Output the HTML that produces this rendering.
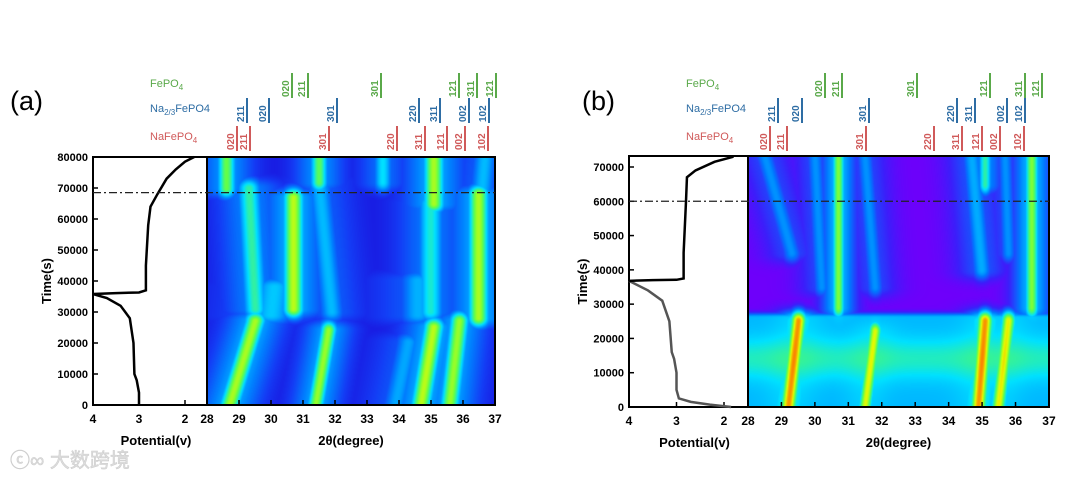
<!DOCTYPE html>
<html><head><meta charset="utf-8"><style>
body{margin:0;background:#fff;width:1080px;height:479px;overflow:hidden;position:relative;font-family:"Liberation Sans",sans-serif}
canvas{position:absolute}
svg{position:absolute;left:0;top:0}
</style></head><body>
<canvas id="heatA" style="left:207px;top:157px" width="288" height="248"></canvas>
<canvas id="heatB" style="left:748px;top:156px" width="301" height="251"></canvas>
<svg id="ov" width="1080" height="479"></svg>
<script>
// ---- data ----
// tracks: [theta0, t0(ks), theta1, t1(ks), sigma(deg), intensity]
const aTracks=[[28.7,0,29.5,27,0.16,0.78],[29.5,31,29.3,70,0.17,0.6],[28.6,70,28.6,80,0.14,0.7],
[30.7,31,30.7,67,0.16,0.8],[31.4,0,31.8,24,0.13,0.76],[31.9,30,31.5,72,0.17,0.42],[31.5,72,31.5,80,0.13,0.68],
[33.5,72,33.5,80,0.13,0.5],[33.9,0,34.3,20,0.18,0.38],[34.7,0,35.1,25,0.16,0.8],[35.6,0,35.9,27,0.15,0.76],
[35.0,30,35.0,65,0.18,0.55],[35.1,65,35.1,80,0.16,0.78],[36.5,28,36.5,68,0.16,0.78],[36.6,68,36.7,80,0.17,0.42],
[30.0,29,30.1,38,0.3,0.45],[34.6,29,34.6,40,0.25,0.4]];
const bTracks=[[29.2,0,29.5,25,0.13,0.92],[31.5,0,31.8,22,0.11,0.8],[34.9,0,35.1,25,0.13,0.92],[35.5,0,35.8,25,0.12,0.82],
[30.7,29,30.7,73,0.1,0.74],[36.5,29,36.5,73,0.11,0.74],[29.3,45,28.5,73,0.15,0.35],[30.2,35,30.0,73,0.13,0.35],
[31.8,35,31.5,73,0.13,0.35],[35.0,40,34.7,73,0.15,0.4],[35.1,65,35.1,73,0.1,0.6],[35.8,45,35.7,73,0.12,0.35]];
const aPotential=[[3.0,0],[3.0,4],[3.05,8],[3.1,10],[3.12,20],[3.2,28],[3.4,32],[3.7,34.5],[4.0,35.8],[3.5,36.1],[3.0,36.3],[2.85,37],[2.85,45],[2.8,58],[2.75,64],[2.6,68],[2.4,73],[2.2,76],[2.0,78.5],[1.8,80]];
const bPotentialDis=[[1.85,0],[2.3,0.7],[2.7,1.5],[2.95,2.5],[3.0,5],[3.0,10],[3.05,14],[3.1,16],[3.15,25],[3.3,31],[3.6,34],[4.0,36.8]];
const bPotentialCh=[[4.0,36.8],[3.5,37],[3.0,37.1],[2.85,37.5],[2.85,45],[2.8,60],[2.78,67],[2.6,69],[2.2,71.5],[1.8,73]];
const aTimeTicks=[0,10000,20000,30000,40000,50000,60000,70000,80000];
const bTimeTicks=[0,10000,20000,30000,40000,50000,60000,70000];
const thetaTicks=[28,29,30,31,32,33,34,35,36,37];
const vTicks=[4,3,2];
const peakNames=["020","211","301","121","311","121"];
const aGreenX=[285,301,374,452,470,489];
const aBlueNames=["211","020","301","220","311","002","102"];
const aBlueX=[240,262,330,412,433,462,482];
const aRedNames=["020","211","301","220","311","121","002","102"];
const aRedX=[230,243,322,390,418,440,458,481];
const bGreenX=[818,835,910,983,1018,1035];
const bBlueX=[771,795,862,950,968,1000,1018];
const bRedX=[763,780,859,927,955,975,993,1017];

function cmap(v,purple){
  const st=purple?[[0,[110,0,250]],[0.12,[60,30,250]],[0.3,[0,120,255]],[0.5,[0,225,255]],[0.7,[90,255,80]],[0.85,[230,250,0]],[1,[255,110,0]]]
  :[[0,[25,25,225]],[0.12,[20,60,245]],[0.3,[0,130,255]],[0.5,[0,225,255]],[0.7,[100,255,70]],[0.85,[230,250,0]],[1,[255,110,0]]];
  v=Math.max(0,Math.min(1,v));
  for(let i=1;i<st.length;i++){if(v<=st[i][0]){const f=(v-st[i-1][0])/(st[i][0]-st[i-1][0]);const a=st[i-1][1],b=st[i][1];return[a[0]+(b[0]-a[0])*f,a[1]+(b[1]-a[1])*f,a[2]+(b[2]-a[2])*f];}}
  return st[st.length-1][1];
}
function drawHeat(id,tracks,tMax,purple,band,sw,hf){
  const c=document.getElementById(id),ctx=c.getContext('2d'),W=c.width,H=c.height,img=ctx.createImageData(W,H);
  for(let py=0;py<H;py++){const t=tMax*(1-py/(H-1));
    for(let px=0;px<W;px++){const th=28+9*px/(W-1);let core=0,halo=0;
      for(const k of tracks){const lo=Math.min(k[1],k[3]),hi=Math.max(k[1],k[3]);
        const tc=Math.max(lo,Math.min(hi,t));const f=(hi>lo)?(tc-k[1])/(k[3]-k[1]):0;const cth=k[0]+(k[2]-k[0])*f;
        const fade=Math.exp(-Math.pow((t-tc)/3.5,2));const d=(th-cth);const s=k[4]*sw;
        core=Math.max(core,k[5]*fade*Math.exp(-d*d/(2*s*s)));
        halo=Math.max(halo,k[5]*fade*Math.exp(-d*d/(2*7*s*s)));}
      let v=Math.max(core,hf*halo);
      if(band){const bv=t<26?0.42+0.15*Math.exp(-Math.pow((t-14)/6,2)):0.42*Math.exp(-Math.pow((t-26)/1.5,2));v=Math.max(v,bv)+0.1*Math.min(v,bv);}
      const col=cmap(v,purple);const i=(py*W+px)*4;img.data[i]=col[0];img.data[i+1]=col[1];img.data[i+2]=col[2];img.data[i+3]=255;}}
  ctx.putImageData(img,0,0);
}
drawHeat('heatA',aTracks,80,false,false,1.6,0.5);
drawHeat('heatB',bTracks,73.2,true,true,1.5,0.58);

const S='http://www.w3.org/2000/svg',ov=document.getElementById('ov');
function el(tag,at,txt){const e=document.createElementNS(S,tag);for(const k in at)e.setAttribute(k,at[k]);if(txt!==undefined)e.textContent=txt;ov.appendChild(e);return e;}

function panel(P){
  const vx=v=>P.vx4+(4-v)*P.pxV, ty=t=>P.y0-t*P.pxT, tx=th=>P.hx0+(th-28)*P.pxD;
  const frame=el('rect',{x:P.vx4,y:P.yTop,width:P.hx1-P.vx4,height:P.y0-P.yTop,fill:'none',stroke:'#000','stroke-width':2});
  
  const sep=el('line',{x1:P.hx0,x2:P.hx0,y1:P.yTop,y2:P.y0,stroke:'#000','stroke-width':2});
  
  P.timeTicks.forEach(t=>{
    const l=el('line',{x1:P.vx4,x2:P.vx4+5,y1:ty(t/1000),y2:ty(t/1000),stroke:'#000','stroke-width':1.5});
    
    const tl=el('text',{x:P.vx4-5,y:ty(t/1000)+4,'text-anchor':'end','font-size':11,'font-weight':'bold'},t);
    });
  vTicks.forEach(v=>{
    const l=el('line',{x1:vx(v),x2:vx(v),y1:P.y0,y2:P.y0-5,stroke:'#000','stroke-width':1.5});
    
    const tl=el('text',{x:vx(v),y:P.y0+18,'text-anchor':'middle','font-size':12,'font-weight':'bold'},v);
    });
  thetaTicks.forEach(th=>{
    const l=el('line',{x1:tx(th),x2:tx(th),y1:P.y0,y2:P.y0-5,stroke:'#000','stroke-width':1.5});
    
    const tl=el('text',{x:tx(th),y:P.y0+18,'text-anchor':'middle','font-size':12,'font-weight':'bold'},th);
    });
  P.curves.forEach(cv=>{
    const p=el('polyline',{points:cv.d.map(q=>vx(q[0])+','+ty(q[1])).join(' '),fill:'none',stroke:cv.c,'stroke-width':2.5});
    });
  const dl=el('line',{x1:P.vx4,x2:P.hx1,y1:ty(P.dash),y2:ty(P.dash),stroke:'#222','stroke-width':1.3,'stroke-dasharray':'8 3 2 3'});
  
  const yt=el('text',{x:0,y:0,transform:`translate(${P.vx4-42},${(P.y0+P.yTop)/2}) rotate(-90)`,'text-anchor':'middle','font-size':13,'font-weight':'bold'},'Time(s)');
  
  const pt=el('text',{x:(P.vx4+P.hx0)/2+6,y:P.y0+40,'text-anchor':'middle','font-size':13,'font-weight':'bold'},'Potential(v)');
  
  const tt=el('text',{x:(P.hx0+P.hx1)/2,y:P.y0+40,'text-anchor':'middle','font-size':13,'font-weight':'bold'},'2θ(degree)');
  
  const pl=el('text',{x:P.lx,y:110,'font-size':27},P.label);
  
  const rows=[[P.gx,peakNames,'#5aa94a',97,'FePO','4',''],[P.bx,aBlueNames,'#2e6da4',122,'Na','FePO4','2/3'],[P.rx,aRedNames,'#d05a5a',150,'NaFePO','4','']];
  rows.forEach(r=>{
    const lab=el('text',{x:P.rlx,y:r[3]-10,'font-size':11,fill:r[2]});
    
    if(r[6]){lab.innerHTML=`Na<tspan font-size="8" dy="3">2/3</tspan><tspan dy="-3">FePO4</tspan>`;}
    else{lab.innerHTML=`${r[4]}<tspan font-size="8" dy="3">${r[5]}</tspan>`;}
    r[0].forEach((x,i)=>{
      const t=el('text',{x:0,y:0,transform:`translate(${x+4},${r[3]}) rotate(-90)`,'font-size':10,'font-weight':'bold',fill:r[2]},r[1][i]);
      
      const b=el('line',{x1:x+7,x2:x+7,y1:r[3]-24,y2:r[3]+1,stroke:r[2],'stroke-width':2});
      });
  });
}
panel({n:'a',label:'(a)',lx:10,rlx:150,vx4:93,pxV:46,hx0:207,hx1:495,pxD:32,y0:405,yTop:157,pxT:3.1,timeTicks:aTimeTicks,dash:68.5,
 curves:[{d:aPotential,c:'#000'}],gx:aGreenX,bx:aBlueX,rx:aRedX});
panel({n:'b',label:'(b)',lx:582,rlx:686,vx4:629,pxV:47.5,hx0:748,hx1:1049,pxD:33.44,y0:407,yTop:156,pxT:3.4286,timeTicks:bTimeTicks,dash:60,
 curves:[{d:bPotentialDis,c:'#555'},{d:bPotentialCh,c:'#000'}],gx:bGreenX,bx:bBlueX,rx:bRedX});
const wm=el('text',{x:10,y:467,'font-size':20,fill:'#ddd',stroke:'#ccc','stroke-width':0.5},'ⓒ∞ 大数跨境');
wm.style.fontFamily='"Liberation Sans","Noto Sans CJK SC",sans-serif';


</script>
</body></html>
